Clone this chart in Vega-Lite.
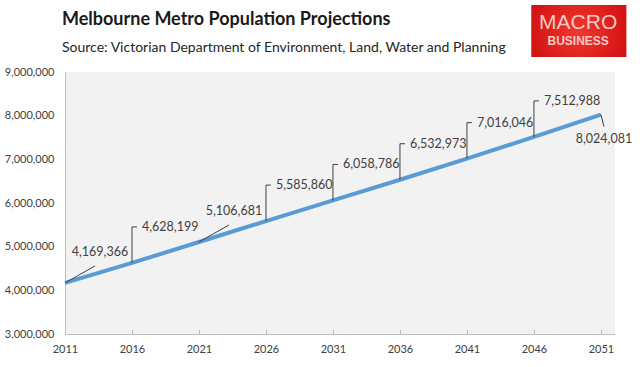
{
  "$schema": "https://vega.github.io/schema/vega-lite/v6.json",
  "width": 550,
  "height": 262,
  "autosize": {"type": "none"},
  "padding": {"left": 65, "top": 72, "right": 25, "bottom": 33},
  "background": "white",
  "config": {
    "view": {"fill": "#f2f2f2", "stroke": null},
    "font": "Lato"
  },
  "title": {
    "text": "Melbourne Metro Population Projections",
    "subtitle": "Source: Victorian Department of Environment, Land, Water and Planning",
    "anchor": "start",
    "frame": "group",
    "dx": -3,
    "dy": 66,
    "offset": 16,
    "font": "Lato",
    "fontSize": 18,
    "fontWeight": "bold",
    "color": "#1a1a1a",
    "subtitleFont": "Lato",
    "subtitleFontSize": 14,
    "subtitleColor": "#262626",
    "subtitlePadding": 12
  },
  "datasets": {
    "pop": [
      {"year": 2011, "population": 4169366},
      {"year": 2016, "population": 4628199},
      {"year": 2021, "population": 5106681},
      {"year": 2026, "population": 5585860},
      {"year": 2031, "population": 6058786},
      {"year": 2036, "population": 6532973},
      {"year": 2041, "population": 7016046},
      {"year": 2046, "population": 7512988},
      {"year": 2051, "population": 8024081}
    ],
    "logo": [
      {"x1": 2045.8, "x2": 2052.9, "y1": 10534000, "y2": 9343000, "xc": 2049.3, "y_macro": 10122000, "y_business": 9710000}
    ]
  },
  "data": {"name": "pop"},
  "layer": [
    {
      "mark": {"type": "line", "color": "#5b9bd5", "strokeWidth": 4},
      "encoding": {
        "x": {
          "field": "year", "type": "quantitative",
          "scale": {"domain": [2011, 2052.05], "nice": false, "zero": false},
          "axis": {
            "title": null, "values": [2011, 2016, 2021, 2026, 2031, 2036, 2041, 2046, 2051],
            "format": "d", "grid": false, "labelFontSize": 11, "labelColor": "#404040",
            "domainColor": "#bfbfbf", "tickColor": "#bfbfbf", "tickSize": -5, "labelPadding": 14,
            "labelFlush": false
          }
        },
        "y": {
          "field": "population", "type": "quantitative",
          "scale": {"domain": [3000000, 9000000], "nice": false, "zero": false},
          "axis": {
            "title": null, "values": [3000000, 4000000, 5000000, 6000000, 7000000, 8000000, 9000000],
            "format": ",.0f", "grid": false, "ticks": false, "labelFontSize": 11, "labelColor": "#404040",
            "domainColor": "#bfbfbf", "labelPadding": 11
          }
        }
      }
    },
    {
      "transform": [{"filter": "datum.year == 2016 || (datum.year >= 2026 && datum.year <= 2046)"}],
      "mark": {"type": "rule", "color": "#404040", "strokeWidth": 1, "y2Offset": -36},
      "encoding": {
        "x": {"field": "year", "type": "quantitative"},
        "y": {"field": "population", "type": "quantitative"},
        "x2": {"field": "year"},
        "y2": {"field": "population"}
      }
    },
    {
      "transform": [{"filter": "datum.year == 2016 || (datum.year >= 2026 && datum.year <= 2046)"}],
      "mark": {"type": "rule", "color": "#404040", "strokeWidth": 1, "yOffset": -36, "y2Offset": -36, "x2Offset": 5},
      "encoding": {
        "x": {"field": "year", "type": "quantitative"},
        "y": {"field": "population", "type": "quantitative"},
        "x2": {"field": "year"},
        "y2": {"field": "population"}
      }
    },
    {
      "transform": [{"filter": "datum.year == 2016 || (datum.year >= 2026 && datum.year <= 2046)"}],
      "mark": {"type": "text", "align": "left", "baseline": "middle", "dx": 10, "dy": -36, "fontSize": 12.5, "color": "#404040"},
      "encoding": {
        "x": {"field": "year", "type": "quantitative"},
        "y": {"field": "population", "type": "quantitative"},
        "text": {"field": "population", "type": "quantitative", "format": ","}
      }
    },
    {
      "transform": [{"filter": "datum.year == 2011 || datum.year == 2021"}],
      "mark": {"type": "rule", "color": "#404040", "strokeWidth": 1, "x2Offset": 30, "y2Offset": -17},
      "encoding": {
        "x": {"field": "year", "type": "quantitative"},
        "y": {"field": "population", "type": "quantitative"},
        "x2": {"field": "year"},
        "y2": {"field": "population"}
      }
    },
    {
      "transform": [{"filter": "datum.year == 2011 || datum.year == 2021"}],
      "mark": {"type": "text", "align": "center", "baseline": "middle", "dx": 35, "dy": -31, "fontSize": 12.5, "color": "#404040"},
      "encoding": {
        "x": {"field": "year", "type": "quantitative"},
        "y": {"field": "population", "type": "quantitative"},
        "text": {"field": "population", "type": "quantitative", "format": ","}
      }
    },
    {
      "transform": [{"filter": "datum.year == 2051"}],
      "mark": {"type": "rule", "color": "#404040", "strokeWidth": 1, "x2Offset": 3, "y2Offset": 12},
      "encoding": {
        "x": {"field": "year", "type": "quantitative"},
        "y": {"field": "population", "type": "quantitative"},
        "x2": {"field": "year"},
        "y2": {"field": "population"}
      }
    },
    {
      "transform": [{"filter": "datum.year == 2051"}],
      "mark": {"type": "text", "align": "center", "baseline": "middle", "dx": 3, "dy": 24, "fontSize": 12.5, "color": "#404040"},
      "encoding": {
        "x": {"field": "year", "type": "quantitative"},
        "y": {"field": "population", "type": "quantitative"},
        "text": {"field": "population", "type": "quantitative", "format": ","}
      }
    },
    {
      "data": {"name": "logo"},
      "mark": {
        "type": "rect", "clip": false,
        "color": {"gradient": "radial", "stops": [{"offset": 0, "color": "#f0382f"}, {"offset": 1, "color": "#d41414"}]}
      },
      "encoding": {
        "x": {"field": "x1", "type": "quantitative"},
        "x2": {"field": "x2"},
        "y": {"field": "y1", "type": "quantitative"},
        "y2": {"field": "y2"}
      }
    },
    {
      "data": {"name": "logo"},
      "mark": {"type": "text", "clip": false, "text": "MACRO", "font": "Liberation Sans", "fontSize": 21, "fontWeight": "normal", "color": "#f7c9c4", "align": "center", "baseline": "middle"},
      "encoding": {
        "x": {"field": "xc", "type": "quantitative"},
        "y": {"field": "y_macro", "type": "quantitative"}
      }
    },
    {
      "data": {"name": "logo"},
      "mark": {"type": "text", "clip": false, "text": "BUSINESS", "font": "Liberation Sans", "fontSize": 12, "fontWeight": "bold", "color": "#f7c9c4", "align": "center", "baseline": "middle"},
      "encoding": {
        "x": {"field": "xc", "type": "quantitative"},
        "y": {"field": "y_business", "type": "quantitative"}
      }
    }
  ]
}
